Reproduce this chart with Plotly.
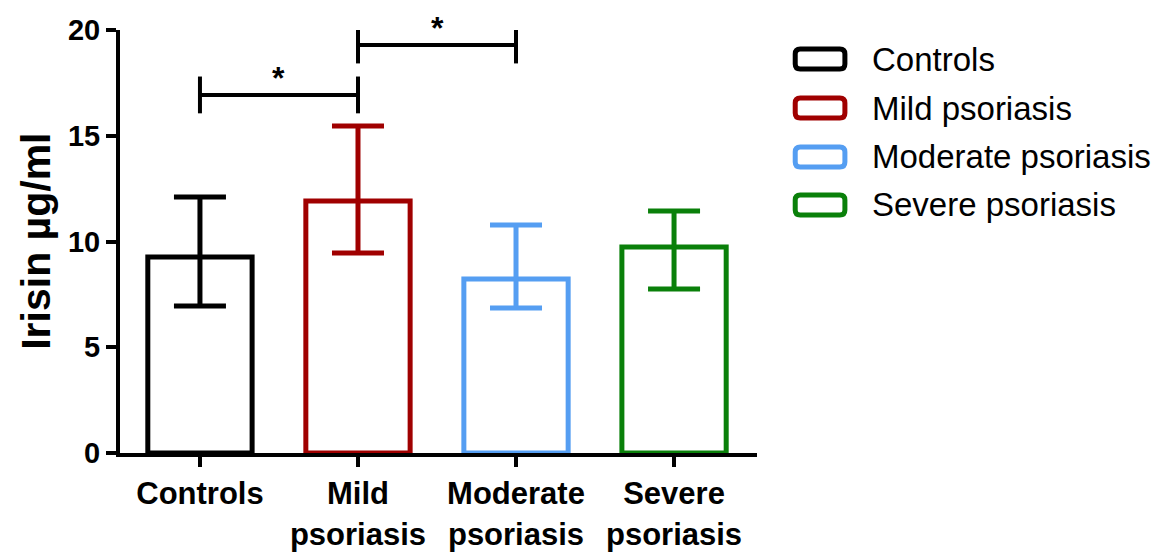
import plotly.graph_objects as go

# ---- data ----
categories = ["Controls", "Mild psoriasis", "Moderate psoriasis", "Severe psoriasis"]
tick_labels = ["Controls", "Mild<br>psoriasis", "Moderate<br>psoriasis", "Severe<br>psoriasis"]
values = [9.27, 11.91, 8.23, 9.74]
err_plus = [2.83, 3.55, 2.55, 1.70]
err_minus = [2.32, 2.45, 1.37, 1.99]
colors = ["#000000", "#A00000", "#559EF2", "#0A800A"]
y_ticks = [0, 5, 10, 15, 20]

# significance brackets: (from index, to index, level, label)
bracket_from = [0, 1]
bracket_to = [1, 2]
bracket_level = [16.93, 19.29]
bracket_label = ["*", "*"]
bracket_tick = 0.87

FONT = "Arial, Liberation Sans, sans-serif"

# plot-area geometry (pixels); the page body adds an 8px offset
PW, PH = 637, 423

fig = go.Figure()
xs = list(range(len(categories)))
for i, cat in enumerate(categories):
    fig.add_trace(go.Bar(
        x=[xs[i]], y=[values[i]], name=cat, width=0.66,
        marker=dict(color="rgba(255,255,255,0)", line=dict(color=colors[i], width=5)),
        error_y=dict(type="data", symmetric=False, array=[err_plus[i]], arrayminus=[err_minus[i]],
                     color=colors[i], thickness=5, width=26),
        showlegend=False,
    ))

for a, b, lvl, lab in zip(bracket_from, bracket_to, bracket_level, bracket_label):
    fig.add_trace(go.Scatter(
        x=[a, a, None, a, b, None, b, b],
        y=[lvl - bracket_tick, lvl + bracket_tick, None, lvl, lvl, None, lvl - bracket_tick, lvl + bracket_tick],
        mode="lines", line=dict(color="black", width=4), showlegend=False, cliponaxis=False,
        hoverinfo="skip",
    ))
    fig.add_annotation(x=(a + b) / 2, y=lvl, text="<b>" + lab + "</b>", showarrow=False,
                       yanchor="bottom", yshift=-3, font=dict(family=FONT, size=32, color="black"))

# custom legend (outlined rounded boxes)
legend_y = [0.9314, 0.8156, 0.6998, 0.5863]
bx0, bx1 = 1.060, 1.138
bh = 0.0236
rx, ry = 5 / PW, 5 / PH
for i, cat in enumerate(categories):
    y0, y1 = legend_y[i] - bh, legend_y[i] + bh
    path = (f"M {bx0+rx},{y0} L {bx1-rx},{y0} Q {bx1},{y0} {bx1},{y0+ry} "
            f"L {bx1},{y1-ry} Q {bx1},{y1} {bx1-rx},{y1} L {bx0+rx},{y1} "
            f"Q {bx0},{y1} {bx0},{y1-ry} L {bx0},{y0+ry} Q {bx0},{y0} {bx0+rx},{y0} Z")
    fig.add_shape(type="path", xref="paper", yref="paper", path=path,
                  line=dict(color=colors[i], width=5), fillcolor="white")
    fig.add_annotation(xref="paper", yref="paper", x=1.1774, y=legend_y[i], text=cat,
                       showarrow=False, xanchor="left", yanchor="middle",
                       font=dict(family=FONT, size=33, color="black"))

fig.add_annotation(xref="paper", yref="paper", x=-0.133, y=0.5, text="<b>Irisin µg/ml</b>",
                   textangle=-90, showarrow=False, xanchor="center", yanchor="middle",
                   font=dict(family=FONT, size=41, color="black"))

fig.update_layout(
    width=1155, height=544,
    margin=dict(l=112, r=406, t=22, b=99, autoexpand=False),
    plot_bgcolor="white", paper_bgcolor="white",
    barmode="overlay",
    font=dict(family=FONT, color="black"),
    xaxis=dict(range=[-0.506, 3.525], tickvals=xs,
               ticktext=["<b>" + t.replace("<br>", "</b><br><b>") + "</b>" for t in tick_labels],
               showline=True, linecolor="black", linewidth=4, ticks="outside", ticklen=10,
               tickwidth=4, tickcolor="black", showgrid=False, zeroline=False, automargin=False,
               tickfont=dict(family=FONT, size=31, color="black"), fixedrange=True),
    yaxis=dict(range=[0, 20], tickvals=y_ticks, ticktext=["<b>%d</b>" % v for v in y_ticks],
               showline=True, linecolor="black", linewidth=4, ticks="outside", ticklen=10,
               tickwidth=4, tickcolor="black", showgrid=False, zeroline=False, automargin=False,
               tickfont=dict(family=FONT, size=29, color="black"), fixedrange=True),
)

fig.write_html("out.html")
